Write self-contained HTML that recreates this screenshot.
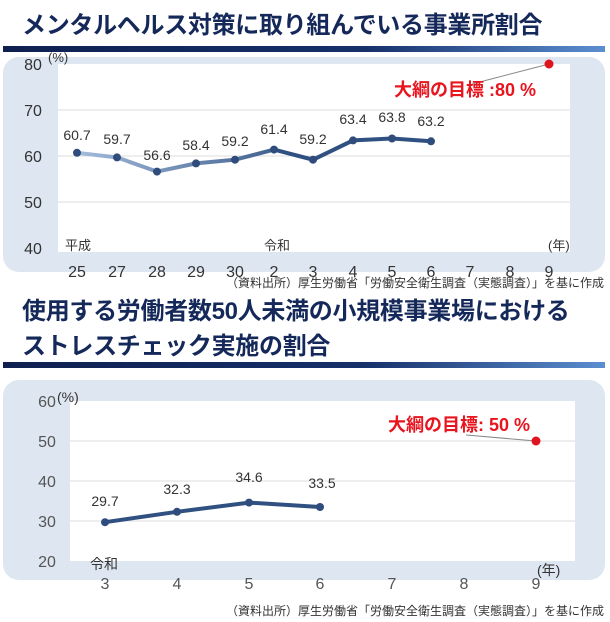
<!DOCTYPE html>
<html><head><meta charset="utf-8"><style>
body{margin:0;width:610px;height:622px;background:#fff;overflow:hidden;position:relative;font-family:"Liberation Sans","Noto Sans CJK JP",sans-serif}
.t{position:absolute;left:22px;color:#14285a;font-weight:bold;font-size:24px;letter-spacing:-0.3px;white-space:nowrap}
.bar{position:absolute;left:3px;width:602px;height:6px;background:linear-gradient(90deg,#0f2050 0%,#16306a 60%,#5b8ed0 100%)}
.panel{position:absolute;left:3px;width:602px;background:#dde6f1;border-radius:16px}
.src{position:absolute;right:6px;font-size:12px;color:#333;white-space:nowrap}
svg{position:absolute;left:0;top:0}
</style></head><body>
<div class="t" style="top:5px">メンタルヘルス対策に取り組んでいる事業所割合</div>
<div class="bar" style="top:46px"></div>
<div class="panel" style="top:57px;height:215px"></div>
<div class="src" style="top:274px">（資料出所）厚生労働省「労働安全衛生調査（実態調査）」を基に作成</div>
<div class="t" style="top:294px;line-height:35px">使用する労働者数50人未満の小規模事業場における<br>ストレスチェック実施の割合</div>
<div class="bar" style="top:362px"></div>
<div class="panel" style="top:380px;height:200px"></div>
<div class="src" style="top:602px">（資料出所）厚生労働省「労働安全衛生調査（実態調査）」を基に作成</div>
<svg width="610" height="622" font-family="Liberation Sans,Noto Sans CJK JP,sans-serif">
<defs><linearGradient id="g" x1="77" x2="313" gradientUnits="userSpaceOnUse"><stop offset="0" stop-color="#a3bcdc"/><stop offset="1" stop-color="#2f5080"/></linearGradient></defs>
<rect x="58" y="64" width="512" height="188" fill="#fff"/>
<g stroke="#dcdcdc"><line x1="58" x2="570" y1="110" y2="110"/><line x1="58" x2="570" y1="156" y2="156"/><line x1="58" x2="570" y1="202" y2="202"/></g>
<g font-size="16" fill="#333" text-anchor="middle"><text x="33" y="70">80</text><text x="33" y="116">70</text><text x="33" y="162">60</text><text x="33" y="208">50</text><text x="33" y="254">40</text></g>
<text x="48" y="62" font-size="13" fill="#333">(%)</text>
<g font-size="16" fill="#333" text-anchor="middle"><text x="77" y="277">25</text><text x="117" y="277">27</text><text x="157" y="277">28</text><text x="196" y="277">29</text><text x="235" y="277">30</text><text x="274" y="277">2</text><text x="313" y="277">3</text><text x="353" y="277">4</text><text x="392" y="277">5</text><text x="431" y="277">6</text><text x="470" y="277">7</text><text x="510" y="277">8</text><text x="549" y="277">9</text></g>
<g font-size="13" fill="#333"><text x="65" y="250">平成</text><text x="264" y="250">令和</text><text x="548" y="250">(年)</text></g>
<polyline fill="none" stroke="url(#g)" stroke-width="4" points="77,152.8 117,157.4 157,171.6 196,163.4 235,159.7 274,149.6"/>
<polyline fill="none" stroke="#2f5080" stroke-width="4" points="274,149.6 313,159.7 353,140.4 392,138.5 431,141.3"/>
<g fill="#2f4c7c"><circle cx="77" cy="152.8" r="4"/><circle cx="117" cy="157.4" r="4"/><circle cx="157" cy="171.6" r="4"/><circle cx="196" cy="163.4" r="4"/><circle cx="235" cy="159.7" r="4"/><circle cx="274" cy="149.6" r="4"/><circle cx="313" cy="159.7" r="4"/><circle cx="353" cy="140.4" r="4"/><circle cx="392" cy="138.5" r="4"/><circle cx="431" cy="141.3" r="4"/></g>
<g font-size="14" fill="#333" text-anchor="middle"><text x="77" y="162" dy="-22">60.7</text><text x="117" y="168" dy="-24">59.7</text><text x="157" y="184" dy="-24">56.6</text><text x="196" y="174" dy="-24">58.4</text><text x="235" y="170" dy="-24">59.2</text><text x="274" y="158" dy="-24">61.4</text><text x="313" y="168" dy="-24">59.2</text><text x="353" y="148" dy="-24">63.4</text><text x="392" y="146" dy="-24">63.8</text><text x="431" y="150" dy="-24">63.2</text></g>
<line x1="472" y1="84" x2="549" y2="64" stroke="#888"/>
<circle cx="549" cy="64" r="4.5" fill="#e0141e"/>
<text x="394" y="110" font-size="18" font-weight="bold" fill="#e8141e" dy="-14">大綱の目標 :80 %</text>

<rect x="70" y="401" width="505" height="160" fill="#fff"/>
<g stroke="#dcdcdc"><line x1="70" x2="575" y1="441" y2="441"/><line x1="70" x2="575" y1="481" y2="481"/><line x1="70" x2="575" y1="521" y2="521"/></g>
<g font-size="16" fill="#555" text-anchor="middle"><text x="47" y="407">60</text><text x="47" y="447">50</text><text x="47" y="487">40</text><text x="47" y="527">30</text><text x="47" y="567">20</text></g>
<text x="57" y="402" font-size="14" fill="#333">(%)</text>
<g font-size="16" fill="#555" text-anchor="middle"><text x="105" y="589">3</text><text x="177" y="589">4</text><text x="249" y="589">5</text><text x="320" y="589">6</text><text x="392" y="589">7</text><text x="464" y="589">8</text><text x="536" y="589">9</text></g>
<g font-size="14" fill="#333"><text x="90" y="569">令和</text><text x="537" y="575">(年)</text></g>
<polyline fill="none" stroke="#2f5080" stroke-width="4" points="105,522.2 177,511.8 249,502.6 320,507"/>
<g fill="#2f4c7c"><circle cx="105" cy="522.2" r="4"/><circle cx="177" cy="511.8" r="4"/><circle cx="249" cy="502.6" r="4"/><circle cx="320" cy="507" r="4"/></g>
<g font-size="14" fill="#333" text-anchor="middle"><text x="105" y="506">29.7</text><text x="177" y="494">32.3</text><text x="249" y="482">34.6</text><text x="322" y="488">33.5</text></g>
<line x1="466" y1="435" x2="536" y2="441" stroke="#888"/>
<circle cx="536" cy="441" r="4.5" fill="#e0141e"/>
<text x="388" y="431" font-size="18" font-weight="bold" fill="#e8141e">大綱の目標: 50 %</text>
</svg>
</body></html>
